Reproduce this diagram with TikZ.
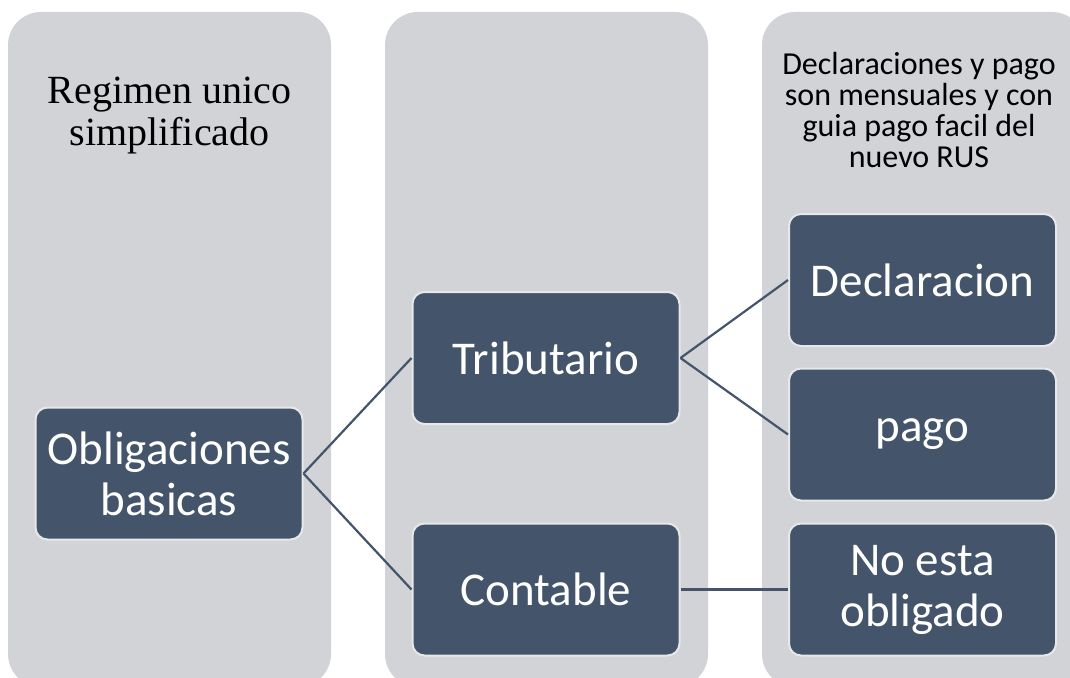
\documentclass[tikz,border=0pt]{standalone}
\usepackage{fontspec}
\setmainfont{Carlito}
\newfontfamily\timesfont{Liberation Serif}
\usepackage{xcolor}

\definecolor{colbg}{HTML}{D1D3D7}
\definecolor{boxfill}{HTML}{44546A}
\definecolor{boxedge}{HTML}{E7E8EA}

\begin{document}
\begin{tikzpicture}[
    x=1pt,
    y=-1pt,
    column/.style={fill=colbg, rounded corners=33pt},
    box/.style={draw=boxedge, line width=2pt, fill=boxfill, rounded corners=12pt,
        minimum width=267pt, minimum height=132pt, inner sep=0pt, align=center,
        text=white, font=\fontsize{47}{51}\selectfont},
    link/.style={draw=boxfill, line width=2.2pt}
]
\useasboundingbox (0,0) rectangle (1070,677);
\clip (0,0) rectangle (1070,677);

% Background columns
\fill[column] (8,12) rectangle (331,687);
\fill[column] (385,12) rectangle (708,687);
\fill[column] (762,12) rectangle (1085,687);

% Column headers
\node[align=center, font=\timesfont\fontsize{40}{42}\selectfont] (head1) at (169.5,116) {Regimen unico\\simplificado};
\node[align=center, font=\fontsize{32}{31}\selectfont] (head3) at (919,110) {Declaraciones y pago\\son mensuales y con\\guia pago facil del\\nuevo RUS};

% Boxes
\node[box] (oblig) at (169,473.5) {Obligaciones\\basicas};
\node[box] (trib) at (546,358) {Tributario};
\node[box] (cont) at (546,589.5) {Contable};
\node[box] (decl) at (922.5,280) {Declaracion};
\node[box] (pago) at (922.5,434.5) {pago};
\node[box] (noobl) at (922.5,589.5) {No esta\\obligado};

% Links
\draw[link] (oblig.east) -- (trib.west);
\draw[link] (oblig.east) -- (cont.west);
\draw[link] (trib.east) -- (decl.west);
\draw[link] (trib.east) -- (pago.west);
\draw[link] (cont.east) -- (noobl.west);

\end{tikzpicture}
\end{document}
